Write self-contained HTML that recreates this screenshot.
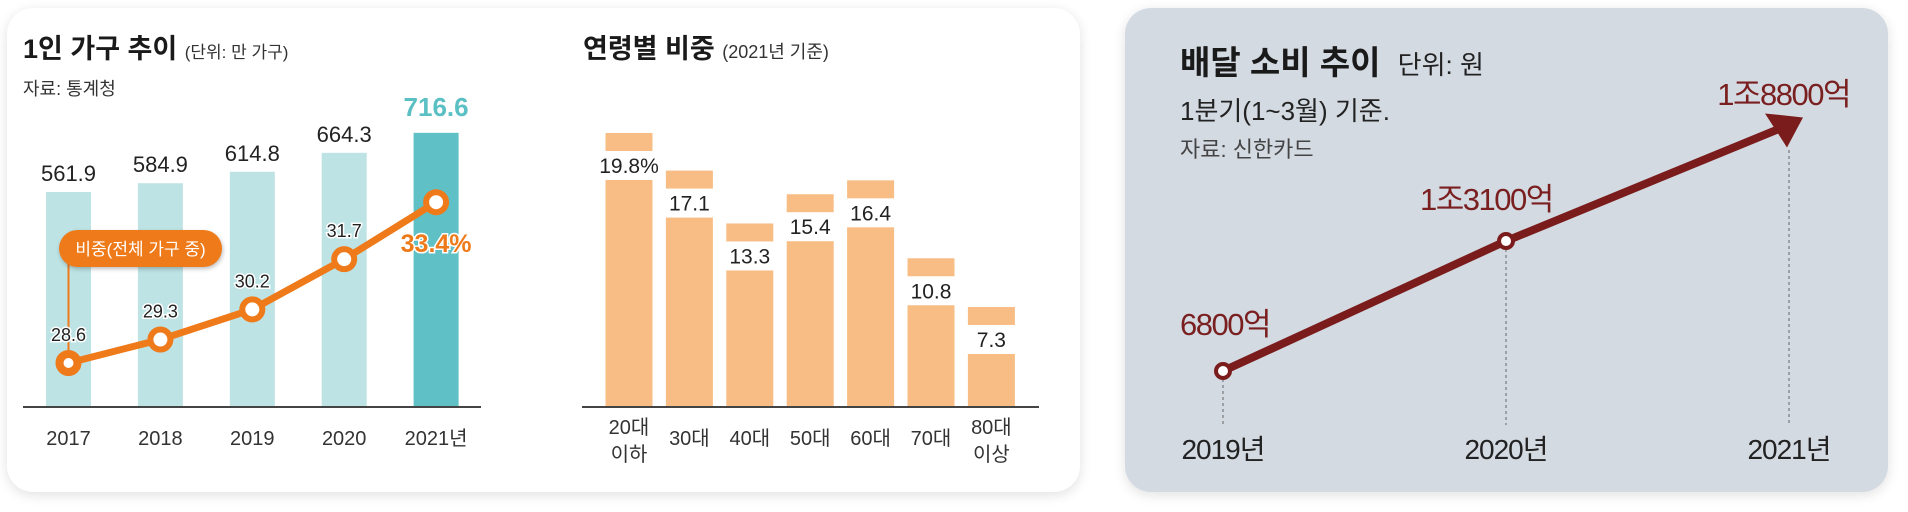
<!DOCTYPE html>
<html><head><meta charset="utf-8"><style>
html,body{margin:0;padding:0;background:#fff;}
body{width:1908px;height:512px;position:relative;overflow:hidden;font-family:"Liberation Sans","Noto Sans CJK KR",sans-serif;}
.card{position:absolute;border-radius:26px;}
svg{position:absolute;left:0;top:0;}
text{font-family:"Liberation Sans","Noto Sans CJK KR",sans-serif;}
</style></head><body>
<div class="card" style="left:7px;top:8px;width:1073px;height:484px;background:#fff;box-shadow:0 3px 12px rgba(0,0,0,0.12);"></div>
<div class="card" style="left:1125px;top:8px;width:763px;height:484px;background:#d3dae2;box-shadow:0 3px 12px rgba(0,0,0,0.12);"></div>
<svg id="chart" width="1908" height="512">
<text x="23" y="58" font-size="27" font-weight="bold" fill="#1a1a1a">1인 가구 추이 <tspan font-size="17" font-weight="normal" fill="#333">(단위: 만 가구)</tspan></text>
<text x="23" y="95" font-size="18" fill="#333">자료: 통계청</text>
<text x="583" y="58" font-size="27" font-weight="bold" fill="#1a1a1a">연령별 비중 <tspan font-size="18" font-weight="normal" fill="#333">(2021년 기준)</tspan></text>
<text x="1180" y="74" font-size="33" font-weight="bold" fill="#1a1a1a">배달 소비 추이 <tspan font-size="26" font-weight="normal" fill="#222" dx="8">단위: 원</tspan></text>
<text x="1180" y="120" font-size="26" fill="#222">1분기(1~3월) 기준.</text>
<text x="1180" y="157" font-size="22" fill="#444">자료: 신한카드</text>
</svg>
<script>
const hhYears=["2017","2018","2019","2020","2021년"];
const hhCounts=[561.9,584.9,614.8,664.3,716.6];
const hhShare=[28.6,29.3,30.2,31.7,33.4];
const ageCats=[["20대","이하"],["30대"],["40대"],["50대"],["60대"],["70대"],["80대","이상"]];
const ageShare=[19.8,17.1,13.3,15.4,16.4,10.8,7.3];
const ageLabels=["19.8%","17.1","13.3","15.4","16.4","10.8","7.3"];
const dlYears=["2019년","2020년","2021년"];
const dlValues=[6800,13100,18800];
const dlLabels=["6800억","1조3100억","1조8800억"];

const svg=document.getElementById('chart');
const NS='http://www.w3.org/2000/svg';
function mk(tag,attrs,txt){const e=document.createElementNS(NS,tag);for(const k in attrs)e.setAttribute(k,attrs[k]);if(txt!==undefined)e.textContent=txt;svg.appendChild(e);return e;}

// chart 1
const base1=407;
const x1=i=>68.5+i*91.9;
const yCount=v=>base1-v*0.3826;
const yShare=v=>363-(v-28.6)*33.5;
hhCounts.forEach((v,i)=>{
  const last=i===hhCounts.length-1;
  const r=mk('rect',{x:x1(i)-22.5,y:yCount(v),width:45,height:base1-yCount(v),fill:last?'#5fc0c5':'#bde3e5'});
  
  
  const t=mk('text',{x:x1(i),y:last?yCount(v)-17:yCount(v)-11,'text-anchor':'middle','font-size':last?26:22,'font-weight':last?'bold':'normal',fill:last?'#5bc0c4':'#222'},v.toFixed(1));
  
  
  const xl=mk('text',{x:x1(i),y:445,'text-anchor':'middle','font-size':20,fill:'#333'},hhYears[i]);
  
  
});
const ax1=mk('line',{x1:23,x2:481,y1:base1,y2:base1,stroke:'#444','stroke-width':2});


const conn=mk('line',{x1:x1(0),x2:x1(0),y1:260,y2:yShare(hhShare[0]),stroke:'#ef7a1a','stroke-width':2});


const pill=mk('rect',{x:59,y:230,width:163,height:37,rx:18.5,fill:'#ef7a1a',style:'filter:drop-shadow(1px 2px 2px rgba(0,0,0,0.25))'});


const pt=mk('text',{x:140.5,y:255,'text-anchor':'middle','font-size':17,fill:'#fff'},'비중(전체 가구 중)');


const pts=hhShare.map((v,i)=>x1(i)+','+yShare(v)).join(' ');
const pl=mk('polyline',{points:pts,fill:'none',stroke:'#ef7a1a','stroke-width':7,'stroke-linejoin':'round'});


hhShare.forEach((v,i)=>{
  const last=i===hhShare.length-1;
  const c=mk('circle',{cx:x1(i),cy:yShare(v),r:i===0?9:10,fill:'#fff',stroke:'#ef7a1a','stroke-width':i===0?8:6});
  
  
  const t=last?mk('text',{x:x1(i),y:yShare(v)+50,'text-anchor':'middle','font-size':25,'font-weight':'bold',fill:'#ef7a1a',stroke:'#fff','stroke-width':3,'paint-order':'stroke'},v.toFixed(1)+'%')
    :mk('text',{x:x1(i),y:yShare(v)-22,'text-anchor':'middle','font-size':18,fill:'#222',stroke:'#fff','stroke-width':3,'paint-order':'stroke'},v.toFixed(1));
  
  
});

// chart 2
const base2=407;
const x2=i=>629+i*60.4;
const yAge=v=>455.6-13.92*v;
ageShare.forEach((v,i)=>{
  const top=yAge(v);
  const cap=mk('rect',{x:x2(i)-23.5,y:top-47,width:47,height:18,fill:'#f8bd85'});
  
  
  const b=mk('rect',{x:x2(i)-23.5,y:top,width:47,height:base2-top,fill:'#f8bd85'});
  
  
  const t=mk('text',{x:x2(i),y:top-7,'text-anchor':'middle','font-size':21,fill:'#222'},ageLabels[i]);
  
  
  const lines=ageCats[i];
  lines.forEach((s,j)=>{
    const y=lines.length===1?445:434+j*27;
    const xl=mk('text',{x:x2(i),y:y,'text-anchor':'middle','font-size':20,fill:'#333'},s);
    
    
  });
});
const ax2=mk('line',{x1:582,x2:1039,y1:base2,y2:base2,stroke:'#444','stroke-width':2});



// chart 3
const x3=i=>1223+i*283;
const yDl=v=>371-(v-6800)*0.02063;
dlValues.forEach((v,i)=>{
  const dl=mk('line',{x1:x3(i),x2:x3(i),y1:i===2?150:yDl(v)+8,y2:425,stroke:'#666','stroke-width':1,'stroke-dasharray':'3,3'});
  
  
  const xl=mk('text',{x:x3(i),y:459,'text-anchor':'middle','font-size':28,fill:'#222','letter-spacing':'-1'},dlYears[i]);
  
  
});
const xe=x3(2)+14, ye=yDl(dlValues[2])-6;
const dline=mk('polyline',{points:x3(0)+','+yDl(dlValues[0])+' '+x3(1)+','+yDl(dlValues[1])+' '+(xe-18)+','+(ye+9),fill:'none',stroke:'#7b1c1c','stroke-width':8,'stroke-linejoin':'round'});


const ah=mk('polygon',{points:(xe)+','+(ye)+' '+(xe-38)+','+(ye-4)+' '+(xe-16)+','+(ye+30),fill:'#7b1c1c'});


[0,1].forEach(i=>{
  const c=mk('circle',{cx:x3(i),cy:yDl(dlValues[i]),r:7,fill:'#fff',stroke:'#7b1c1c','stroke-width':4});
  
  
});
const lpos=[[1180,335,'start'],[1420,210,'start'],[1850,105,'end']];
dlLabels.forEach((s,i)=>{
  const t=mk('text',{x:lpos[i][0],y:lpos[i][1],'text-anchor':lpos[i][2],'font-size':31,fill:'#7a1f1f','letter-spacing':'-1.5'},s);
  
  
});
</script>
</body></html>
